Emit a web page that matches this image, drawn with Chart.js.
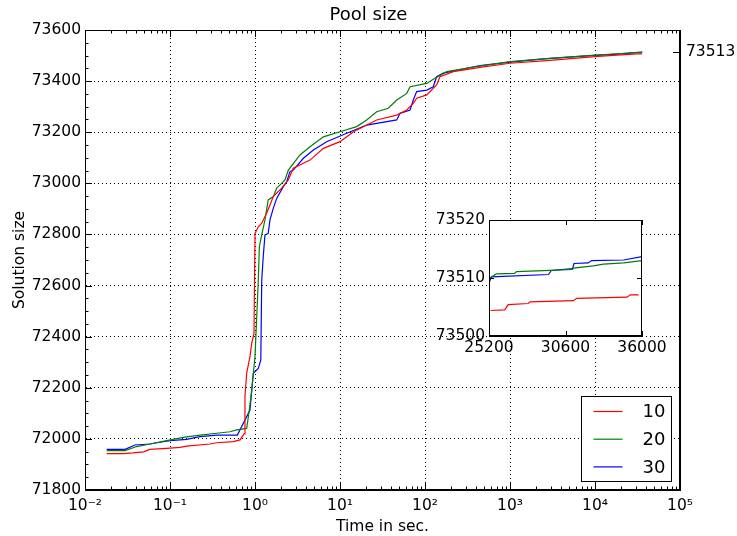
<!DOCTYPE html>
<html>
<head>
<meta charset="utf-8">
<title>Pool size</title>
<script src="https://cdn.jsdelivr.net/npm/chart.js@4.4.1/dist/chart.umd.min.js"></script>
<style>
  html, body { margin: 0; padding: 0; background: #fff; }
  #wrap { position: relative; width: 737px; height: 536px; }
  #main { position: absolute; left: 0; top: 0; }
  #inset { position: absolute; left: 430px; top: 205px; }
</style>
</head>
<body>
<div id="wrap">
  <canvas id="main" width="737" height="536"></canvas>
  <canvas id="inset" width="240" height="155"></canvas>
</div>
<script>
// values (time in sec., solution size)
const seriesNames = ['10', '20', '30'];
const seriesColors = ['#ff0000', '#008000', '#0000ff'];

const timeRed = [0.018, 0.028, 0.037, 0.049, 0.053, 0.058, 0.091, 0.131, 0.157, 0.296, 0.354, 0.556, 0.667, 0.728, 0.745, 0.762, 0.798, 0.873, 0.914, 0.973, 1.0, 1.094, 1.2, 1.37, 1.5, 1.64, 2.06, 2.46, 2.82, 4.44, 6.37, 10, 14.4, 27, 46.5, 61, 72.8, 79.8, 105, 137, 150, 215, 444, 1000, 2700, 10000, 16300];
const sizeRed = [71942, 71942, 71945, 71949, 71954, 71959, 71963, 71967, 71972, 71980, 71985, 71989, 71996, 72015, 72020, 72165, 72257, 72322, 72374, 72413, 72804, 72830, 72844, 72883, 72915, 72948, 72981, 73013, 73059, 73091, 73137, 73163, 73202, 73248, 73267, 73287, 73313, 73333, 73346, 73385, 73417, 73437, 73454, 73470, 73480, 73496, 73501];

const timeGreen = [0.018, 0.0296, 0.0405, 0.0582, 0.0914, 0.143, 0.225, 0.354, 0.508, 0.609, 0.798, 0.857, 0.914, 1.0, 1.094, 1.125, 1.2, 1.31, 1.43, 1.64, 1.8, 2.06, 2.25, 2.47, 3.38, 4.44, 6.37, 10, 15.7, 20.6, 27, 37, 46.5, 61, 66.7, 105, 125, 180, 444, 1000, 2700, 10000, 16300];
const sizeGreen = [71954, 71954, 71970, 71980, 71993, 72006, 72015, 72022, 72028, 72035, 72041, 72113, 72191, 72322, 72622, 72752, 72798, 72857, 72935, 72948, 72981, 73000, 73013, 73052, 73111, 73143, 73182, 73202, 73222, 73248, 73280, 73294, 73326, 73352, 73378, 73391, 73407, 73437, 73459, 73476, 73488, 73502, 73506];

const timeBlue = [0.018, 0.0296, 0.0387, 0.0582, 0.0697, 0.1, 0.157, 0.225, 0.354, 0.62, 0.873, 0.955, 1.094, 1.17, 1.2, 1.25, 1.31, 1.43, 1.5, 1.64, 1.8, 2.15, 2.36, 2.58, 2.82, 3.71, 4.86, 6.97, 12, 20.6, 46.5, 50.8, 66.7, 72.8, 79.8, 105, 125, 137, 164, 444, 1000, 2700, 10000, 16300];
const sizeBlue = [71959, 71959, 71976, 71980, 71985, 71993, 71998, 72009, 72015, 72015, 72113, 72257, 72276, 72309, 72622, 72713, 72798, 72804, 72857, 72902, 72941, 72987, 73006, 73046, 73052, 73098, 73130, 73163, 73196, 73228, 73248, 73274, 73287, 73326, 73359, 73365, 73378, 73417, 73431, 73461, 73474, 73488, 73501, 73505];

// tail of the run, shown in the inset
const insetTimeRed = [25320, 26310, 26550, 27965, 28100, 31155, 31390, 34940, 35180, 35760];
const insetSizeRed = [73504.4, 73504.5, 73505.4, 73505.6, 73505.9, 73506.1, 73506.5, 73506.7, 73507.1, 73507.1];
const insetTimeGreen = [25247, 25720, 27000, 27140, 29500, 31100, 31155, 32570, 33280, 34700, 36000];
const insetSizeGreen = [73510.0, 73510.7, 73510.8, 73511.1, 73511.3, 73511.5, 73511.7, 73512.1, 73512.4, 73512.6, 73513.0];
const insetTimeBlue = [25247, 25365, 29400, 29600, 31100, 31200, 32200, 32450, 34700, 36000];
const insetSizeBlue = [73509.4, 73510.2, 73510.6, 73511.3, 73511.6, 73512.5, 73512.6, 73513.0, 73513.1, 73513.7];

const xTickPowers = [-2, -1, 0, 1, 2, 3, 4, 5];
const rightTicks = [73513];
const insetXTicks = [25200, 30600, 36000];
const insetYTicks = [73500, 73510, 73520];

Chart.defaults.font.family = "'DejaVu Sans', sans-serif";
Chart.defaults.color = '#000';

const FONT = 15.5;
const supMap = { '-': '\u207B', '0': '\u2070', '1': '\u00B9', '2': '\u00B2', '3': '\u00B3', '4': '\u2074', '5': '\u2075' };
const sup = n => String(n).split('').map(c => supMap[c]).join('');
const toPoints = (t, s) => t.map((x, i) => ({ x: x, y: s[i] }));
const plain = v => String(v);

function line(ctx, x1, y1, x2, y2) {
  ctx.beginPath(); ctx.moveTo(x1, y1); ctx.lineTo(x2, y2); ctx.stroke();
}

// matplotlib-like ticks pointing into the axes, plus the full frame
const mainTicks = {
  id: 'mainTicks',
  afterDatasetsDraw(chart) {
    const ctx = chart.ctx;
    const { left, right, top, bottom } = chart.chartArea;
    const xs = chart.scales.x, ys = chart.scales.y, y2 = chart.scales.y2;
    ctx.save();
    ctx.strokeStyle = '#000';
    ctx.lineWidth = 1;
    ctx.strokeRect(left + 0.5, top + 0.5, right - left - 1, bottom - top - 1);
    xTickPowers.forEach(p => {
      const base = Math.pow(10, p);
      const px = Math.round(xs.getPixelForValue(base)) + 0.5;
      line(ctx, px, bottom, px, bottom - 7);
      line(ctx, px, top, px, top + 7);
      if (p === xTickPowers[xTickPowers.length - 1]) return;
      for (let m = 2; m < 10; m++) {
        const mx = Math.round(xs.getPixelForValue(base * m)) + 0.5;
        line(ctx, mx, bottom, mx, bottom - 3.5);
        line(ctx, mx, top, mx, top + 3.5);
      }
    });
    for (let v = ys.min; v <= ys.max; v += 50) {
      const py = Math.round(ys.getPixelForValue(v)) + 0.5;
      line(ctx, left, py, left + (v % 200 === 0 ? 7 : 3.5), py);
    }
    rightTicks.forEach(v => {
      const py = Math.round(y2.getPixelForValue(v)) + 0.5;
      line(ctx, right, py, right - 7, py);
    });
    ctx.restore();
  }
};

const boxLegend = {
  id: 'boxLegend',
  afterDraw(chart) {
    const ctx = chart.ctx;
    const { right, bottom } = chart.chartArea;
    const w = 90, h = 85;
    const x0 = right - 9 - w + 0.5, y0 = bottom - 9 - h + 0.5;
    ctx.save();
    ctx.fillStyle = '#fff';
    ctx.fillRect(x0, y0, w, h);
    ctx.strokeStyle = '#000';
    ctx.lineWidth = 1;
    ctx.strokeRect(x0, y0, w, h);
    ctx.font = "18px 'DejaVu Sans'";
    ctx.textAlign = 'right';
    ctx.textBaseline = 'middle';
    chart.data.datasets.forEach((ds, i) => {
      const y = y0 + 15 + i * 27.7;
      ctx.strokeStyle = ds.borderColor;
      ctx.lineWidth = 1.2;
      line(ctx, x0 + 12, y, x0 + 41, y);
      ctx.fillStyle = '#000';
      ctx.fillText(ds.label, x0 + w - 6, y + 1);
    });
    ctx.restore();
  }
};

const mainSets = [
  toPoints(timeRed.concat(insetTimeRed), sizeRed.concat(insetSizeRed)),
  toPoints(timeGreen.concat(insetTimeGreen), sizeGreen.concat(insetSizeGreen)),
  toPoints(timeBlue.concat(insetTimeBlue), sizeBlue.concat(insetSizeBlue))
];

new Chart(document.getElementById('main'), {
  type: 'line',
  data: {
    datasets: mainSets.map((pts, i) => ({
      label: seriesNames[i],
      data: pts,
      borderColor: seriesColors[i],
      borderWidth: 1.2,
      pointRadius: 0,
      tension: 0,
      fill: false
    }))
  },
  options: {
    responsive: false,
    animation: false,
    devicePixelRatio: 1,
    layout: { padding: 0 },
    plugins: {
      legend: { display: false },
      tooltip: { enabled: false },
      title: {
        display: true,
        text: 'Pool size',
        color: '#000',
        font: { size: 18, weight: 'normal' },
        padding: { top: 5, bottom: 3.4 }
      }
    },
    scales: {
      x: {
        type: 'logarithmic',
        min: 0.01,
        max: 100000,
        afterBuildTicks: s => { s.ticks = xTickPowers.map(p => ({ value: Math.pow(10, p) })); },
        afterFit: s => { s.height = 46; },
        ticks: {
          autoSkip: false,
          maxRotation: 0,
          padding: 7,
          font: { size: FONT },
          callback: v => '10' + sup(Math.round(Math.log10(v)))
        },
        grid: { color: '#000', lineWidth: 1, drawTicks: false },
        border: { display: true, color: '#000', width: 1, dash: [1, 3] },
        title: { display: true, text: 'Time in sec.', font: { size: FONT }, padding: { top: 0, bottom: 0 } }
      },
      y: {
        type: 'linear',
        min: 71800,
        max: 73600,
        afterFit: s => { s.width = 85; },
        ticks: { stepSize: 200, padding: 4, font: { size: FONT }, callback: plain },
        grid: { color: '#000', lineWidth: 1, drawTicks: false },
        border: { display: true, color: '#000', width: 1, dash: [1, 3] },
        title: { display: true, text: 'Solution size', font: { size: FONT }, padding: { top: 11, bottom: 0 } }
      },
      y2: {
        type: 'linear',
        position: 'right',
        min: 71800,
        max: 73600,
        afterBuildTicks: s => { s.ticks = rightTicks.map(v => ({ value: v })); },
        afterFit: s => { s.width = 57; },
        ticks: { padding: 6, font: { size: FONT }, callback: plain },
        grid: { display: false, drawTicks: false },
        border: { display: true, color: '#000', width: 1 }
      }
    }
  },
  plugins: [mainTicks, boxLegend]
});

// inset: last part of the run on a linear time axis
const insetFrame = {
  id: 'insetFrame',
  beforeDraw(chart) {
    const { left, right, top, bottom } = chart.chartArea;
    chart.ctx.save();
    chart.ctx.fillStyle = '#fff';
    chart.ctx.fillRect(left, top, right - left, bottom - top);
    chart.ctx.restore();
  },
  afterDraw(chart) {
    const ctx = chart.ctx;
    const { left, right, top, bottom } = chart.chartArea;
    const xs = chart.scales.x, ys = chart.scales.y;
    ctx.save();
    ctx.strokeStyle = '#000';
    ctx.lineWidth = 1;
    ctx.strokeRect(left + 0.5, top + 0.5, right - left - 1, bottom - top - 1);
    insetXTicks.forEach(v => {
      const px = Math.round(xs.getPixelForValue(v)) + 0.5;
      line(ctx, px, bottom, px, bottom - 5);
      line(ctx, px, top, px, top + 5);
    });
    insetYTicks.forEach(v => {
      const py = Math.round(ys.getPixelForValue(v)) + 0.5;
      line(ctx, left, py, left + 5, py);
      line(ctx, right, py, right - 5, py);
    });
    ctx.restore();
  }
};

const insetSets = [
  toPoints(insetTimeRed, insetSizeRed),
  toPoints(insetTimeGreen, insetSizeGreen),
  toPoints(insetTimeBlue, insetSizeBlue)
];

new Chart(document.getElementById('inset'), {
  type: 'line',
  data: {
    datasets: insetSets.map((pts, i) => ({
      label: seriesNames[i],
      data: pts,
      borderColor: seriesColors[i],
      borderWidth: 1.2,
      pointRadius: 0,
      tension: 0,
      fill: false
    }))
  },
  options: {
    responsive: false,
    animation: false,
    devicePixelRatio: 1,
    layout: { padding: { top: 15, right: 28, left: 0, bottom: 0 } },
    plugins: { legend: { display: false }, tooltip: { enabled: false } },
    scales: {
      x: {
        type: 'linear',
        min: 25200,
        max: 36000,
        afterBuildTicks: s => { s.ticks = insetXTicks.map(v => ({ value: v })); },
        afterFit: s => { s.height = 24; },
        ticks: { autoSkip: false, maxRotation: 0, padding: 3, font: { size: FONT }, callback: plain },
        grid: { display: false, drawTicks: false },
        border: { display: true, color: '#000' }
      },
      y: {
        type: 'linear',
        min: 73500,
        max: 73520,
        afterBuildTicks: s => { s.ticks = insetYTicks.map(v => ({ value: v })); },
        afterFit: s => { s.width = 59; },
        ticks: { padding: 4, font: { size: FONT }, callback: plain },
        grid: { display: false, drawTicks: false },
        border: { display: true, color: '#000' }
      }
    }
  },
  plugins: [insetFrame]
});
</script>
</body>
</html>
